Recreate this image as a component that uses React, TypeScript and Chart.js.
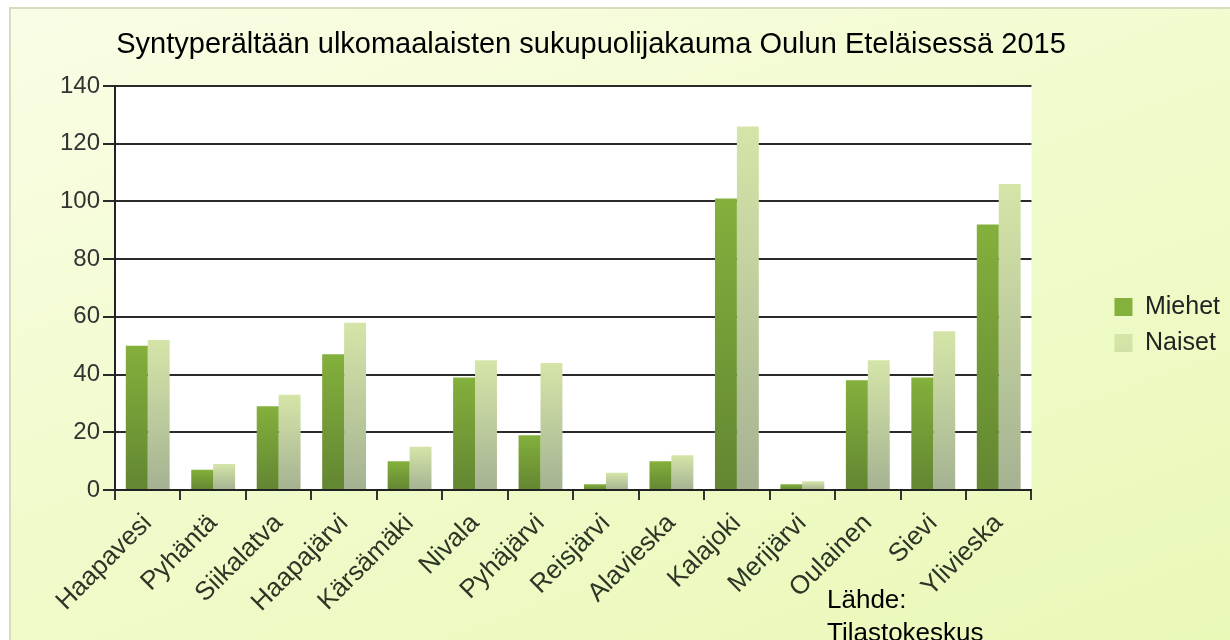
import React, { useEffect, useRef } from "react";
import { Chart, registerables } from "chart.js";

Chart.register(...registerables);

const categories = [
  "Haapavesi", "Pyhäntä", "Siikalatva", "Haapajärvi", "Kärsämäki", "Nivala", "Pyhäjärvi",
  "Reisjärvi", "Alavieska", "Kalajoki", "Merijärvi", "Oulainen", "Sievi", "Ylivieska",
];
const miehet = [50, 7, 29, 47, 10, 39, 19, 2, 10, 101, 2, 38, 39, 92];
const naiset = [52, 9, 33, 58, 15, 45, 44, 6, 12, 126, 3, 45, 55, 106];
const seriesNames = ["Miehet", "Naiset"];
const yTicks = [0, 20, 40, 60, 80, 100, 120, 140];
const titleText = "Syntyperältään ulkomaalaisten sukupuolijakauma Oulun Eteläisessä 2015";
const sourceLines = ["Lähde:", "Tilastokeskus"];

const FONT = "'Liberation Sans', Arial, sans-serif";

function barGradient(top: string, bottom: string, fallback: string) {
  return (ctx: any) => {
    const chart = ctx.chart;
    const { chartArea, scales } = chart;
    if (!chartArea || ctx.type !== "data" || !scales.y) return fallback;
    const v = ctx.raw as number;
    const y0 = scales.y.getPixelForValue(0);
    const y1 = scales.y.getPixelForValue(v);
    if (!isFinite(y0) || !isFinite(y1) || Math.abs(y0 - y1) < 1) return fallback;
    const g = chart.ctx.createLinearGradient(0, y1, 0, y0);
    g.addColorStop(0, top);
    g.addColorStop(1, bottom);
    return g;
  };
}

const whiteArea = {
  id: "whiteArea",
  beforeDraw(chart: any) {
    const { ctx, chartArea } = chart;
    if (!chartArea) return;
    ctx.save();
    ctx.fillStyle = "#ffffff";
    ctx.fillRect(chartArea.left, chartArea.top, chartArea.right - chartArea.left, chartArea.bottom - chartArea.top);
    ctx.restore();
  },
};

export default function App() {
  const canvasRef = useRef<HTMLCanvasElement | null>(null);

  useEffect(() => {
    const canvas = canvasRef.current;
    if (!canvas) return;
    const chart = new Chart(canvas, {
      type: "bar",
      data: {
        labels: categories,
        datasets: [
          {
            label: seriesNames[0],
            data: miehet,
            backgroundColor: barGradient("#84b03c", "#628632", "#6f9835"),
            borderWidth: 0,
            barPercentage: 1,
            categoryPercentage: 0.67,
          },
          {
            label: seriesNames[1],
            data: naiset,
            backgroundColor: barGradient("#d5e5a8", "#a5b292", "#bac89e"),
            borderWidth: 0,
            barPercentage: 1,
            categoryPercentage: 0.67,
          },
        ],
      },
      options: {
        animation: false,
        responsive: false,
        maintainAspectRatio: false,
        layout: { padding: { left: -48, right: 0, top: 10, bottom: 0 } },
        plugins: {
          title: {
            display: true,
            text: titleText,
            color: "#000000",
            font: { family: FONT, size: 29, weight: "normal" },
            padding: { top: 17.6, bottom: 23.6 },
          },
          legend: {
            position: "right",
            fullSize: true,
            labels: {
              color: "#222222",
              font: { family: FONT, size: 25 },
              boxWidth: 18,
              boxHeight: 18,
              padding: 11,
            },
          },
          tooltip: { enabled: false },
        },
        scales: {
          x: {
            offset: true,
            grid: {
              display: true,
              drawOnChartArea: false,
              drawTicks: true,
              tickLength: 10,
              color: "#333333",
              lineWidth: 2,
            },
            border: { display: true, color: "#222222", width: 2 },
            ticks: {
              color: "#2e3526",
              font: { family: FONT, size: 26 },
              minRotation: 45,
              maxRotation: 45,
              autoSkip: false,
              padding: 8,
            },
            afterFit: (s: any) => {
              s.height = 150;
            },
          },
          y: {
            min: 0,
            max: 140,
            afterBuildTicks: (s: any) => {
              s.ticks = yTicks.map((v) => ({ value: v }));
            },
            grid: {
              color: "#2a2a2a",
              lineWidth: 2,
              drawTicks: true,
              tickLength: 12,
            },
            border: { display: true, color: "#222222", width: 2 },
            ticks: {
              color: "#333333",
              font: { family: FONT, size: 24 },
              padding: 3,
            },
            afterFit: (s: any) => {
              s.width = 163;
            },
          },
          yR: {
            position: "right",
            display: true,
            grid: { display: false, drawTicks: false },
            border: { display: false },
            ticks: { display: false },
            afterFit: (s: any) => {
              s.width = 72;
            },
          },
        },
      },
      plugins: [whiteArea],
    });
    return () => chart.destroy();
  }, []);

  return (
    <div style={{ position: "absolute", left: 0, top: 0, width: 1230, height: 640, overflow: "hidden", background: "#ffffff" }}>
      <div
        style={{
          position: "absolute",
          left: 9,
          top: 7,
          width: 1300,
          height: 700,
          border: "2px solid #d6dcbc",
          boxSizing: "border-box",
          background: "linear-gradient(160deg, #fafde6 0%, #f0fbcc 45%, #e8f8b4 100%)",
        }}
      />
      <canvas ref={canvasRef} width={1230} height={640} style={{ position: "absolute", left: 0, top: 0, width: 1230, height: 640 }} />
      <div
        style={{
          position: "absolute",
          left: 827,
          top: 583,
          fontFamily: FONT,
          fontSize: 26,
          lineHeight: "33px",
          color: "#000000",
          whiteSpace: "nowrap",
        }}
      >
        {sourceLines.map((l, i) => (
          <div key={i}>{l}</div>
        ))}
      </div>
    </div>
  );
}
